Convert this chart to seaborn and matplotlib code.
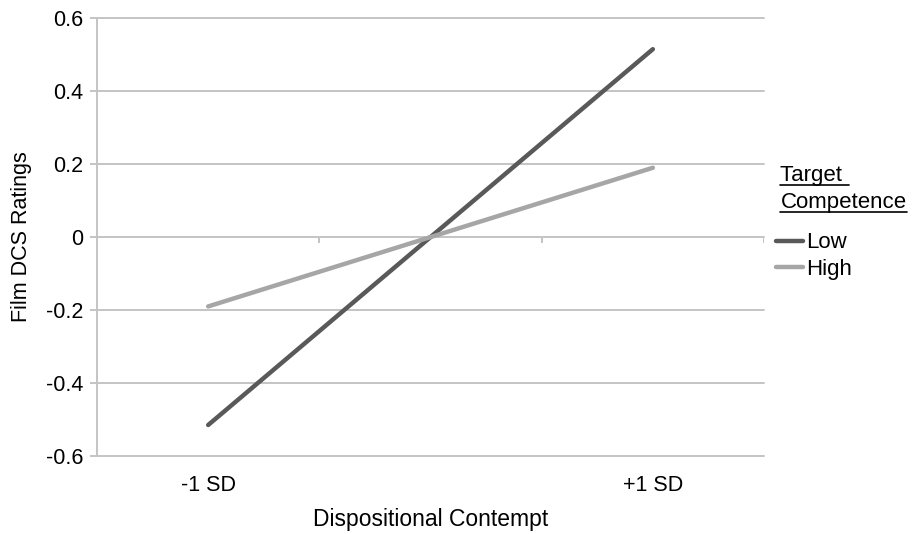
import numpy as np
import pandas as pd
import matplotlib.pyplot as plt
import seaborn as sns
from matplotlib.lines import Line2D

# Data
contempt_sd = [-1, 1]
contempt_labels = ["-1 SD", "+1 SD"]
low_competence = [-0.515, 0.515]
high_competence = [-0.19, 0.19]
groups = ["Low", "High"]
y_ticks = [-0.6, -0.4, -0.2, 0, 0.2, 0.4, 0.6]
y_tick_labels = ["-0.6", "-0.4", "-0.2", "0", "0.2", "0.4", "0.6"]

df = pd.DataFrame({
    "contempt": contempt_sd * 2,
    "rating": low_competence + high_competence,
    "competence": [groups[0]] * 2 + [groups[1]] * 2,
})

sns.set_style("white")
plt.rcParams["font.family"] = ["Liberation Sans", "DejaVu Sans"]
plt.rcParams["text.color"] = "black"
plt.rcParams["axes.labelcolor"] = "black"
plt.rcParams["xtick.color"] = "black"
plt.rcParams["ytick.color"] = "black"

grid_col = "#c4c4c4"
fig = plt.figure(figsize=(9.15, 5.34), dpi=100)
ax = fig.add_axes([0.106, 0.146, 0.729, 0.820])

# gridlines
for yv in y_ticks:
    ax.axhline(yv, color=grid_col, lw=1.4, zorder=0, clip_on=False)
# category boundary ticks on the zero line
ax.vlines([-0.5, 0.5, 1.5], -0.017, 0, color=grid_col, lw=1.4, zorder=0)

sns.lineplot(data=df, x="contempt", y="rating", hue="competence",
             palette={"Low": "#595959", "High": "#a6a6a6"},
             lw=3.2, ax=ax, legend=False, zorder=3)

ax.set_xlim(-1.5, 1.5)
ax.set_ylim(-0.6, 0.6)
ax.set_yticks(y_ticks)
ax.set_yticklabels(y_tick_labels)
ax.set_xticks(contempt_sd)
ax.set_xticklabels(contempt_labels)
ax.tick_params(axis="y", length=5, color=grid_col, width=1.4, labelsize=15.5, pad=5,
               left=True, labelcolor="black")
ax.tick_params(axis="x", length=0, labelsize=15.5, pad=14, labelcolor="black")

for side in ["top", "right", "bottom"]:
    ax.spines[side].set_visible(False)
ax.spines["left"].set_color(grid_col)
ax.spines["left"].set_linewidth(1.4)

ax.set_xlabel("Dispositional Contempt", fontsize=16.5, labelpad=8)
ax.set_ylabel("Film DCS Ratings", fontsize=15.5, labelpad=10)

# legend
handles = [Line2D([], [], color="#595959", lw=3.2),
           Line2D([], [], color="#a6a6a6", lw=3.2)]
ax.legend(handles, groups, loc="upper left", bbox_to_anchor=(0.848, 0.565),
          bbox_transform=fig.transFigure, frameon=False, fontsize=16,
          handlelength=1.2, handletextpad=0.15, labelspacing=0.25,
          borderaxespad=0, borderpad=0, labelcolor="black")

# underlined legend title
t1 = fig.text(0.853, 0.661, "Target ", fontsize=16, va="baseline")
t2 = fig.text(0.853, 0.610, "Competence", fontsize=16, va="baseline")
fig.canvas.draw()
inv = fig.transFigure.inverted()
for t in (t1, t2):
    bb = t.get_window_extent()
    x0, y0 = inv.transform((bb.x0, bb.y0 + 1))
    x1, _ = inv.transform((bb.x1, bb.y0 + 1))
    fig.add_artist(Line2D([x0, x1], [y0, y0], color="black", lw=1.2,
                          transform=fig.transFigure))

fig.savefig("out.png", dpi=100)
